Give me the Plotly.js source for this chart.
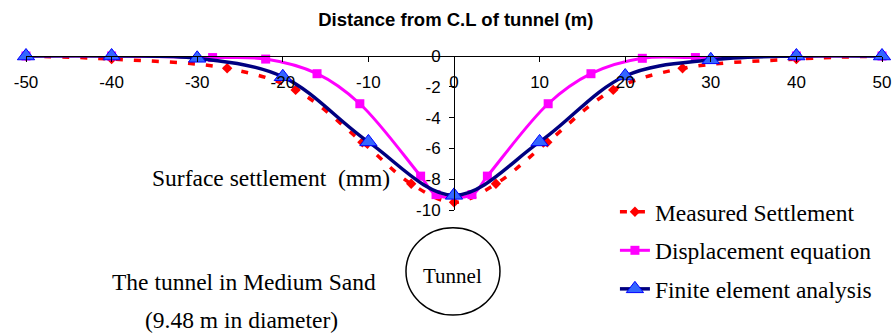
<!DOCTYPE html>
<html>
<head>
<meta charset="utf-8">
<script src="https://cdn.plot.ly/plotly-3.0.1.min.js"></script>
<style>
  html, body { margin: 0; padding: 0; background: #ffffff; }
  #chart { width: 896px; height: 334px; }
</style>
</head>
<body>
<div id="chart"></div>
<script>
// Distance from tunnel centre line (m) and surface settlement (mm)
const measuredX = [-50, -40, -26.5, -18.5, -10.7, -5, 0, 4.9, 10.9, 18.6, 26.7, 40, 50];
const measuredY = [0, -0.2, -0.8, -2.2, -5.6, -8.3, -9.5, -8.3, -5.6, -2.2, -0.8, -0.2, 0];

const displacementX = [-50, -40, -28.2, -22, -16, -11, -3.9, -2.1, 2.1, 3.9, 11, 16, 22, 28.2, 40, 50];
const displacementY = [0, 0, -0.1, -0.2, -1.15, -3.1, -7.8, -9.0, -9.0, -7.8, -3.1, -1.15, -0.15, -0.1, 0, 0];

const feaX = [-50, -40, -30, -20, -10, 0, 10, 20, 30, 40, 50];
const feaY = [0, 0, -0.15, -1.35, -5.58, -9.05, -5.58, -1.3, -0.25, 0, 0];

const seriesNames = ['Measured Settlement', 'Displacement equation', 'Finite element analysis'];
const xTickVals = [-50, -40, -30, -20, -10, 0, 10, 20, 30, 40, 50];
const xTickText = ['-50', '-40', '-30', '-20', '-10', '0', '10', '20', '30', '40', '50'];
const yTickVals = [-10, -8, -6, -4, -2, 0];
const yTickText = ['-10', '-8', '-6', '-4', '-2', '0'];

const serif = "'Times New Roman', 'Liberation Serif', serif";
const sans = "Arial, 'Liberation Sans', sans-serif";

const traces = [
  {
    x: measuredX, y: measuredY, name: seriesNames[0], legendgroup: 'g1',
    type: 'scatter', mode: 'lines+markers', cliponaxis: false,
    line: { color: '#FF0000', width: 3.5, dash: '7px,11px', shape: 'spline', smoothing: 1 },
    marker: { symbol: 'diamond', size: 8, color: '#FF0000', line: { width: 0 } }
  },
  {
    x: displacementX, y: displacementY, name: seriesNames[1], legendgroup: 'g2',
    type: 'scatter', mode: 'lines+markers', cliponaxis: false,
    line: { color: '#FF00FF', width: 3, shape: 'spline', smoothing: 1 },
    marker: { symbol: 'square', size: 9, color: '#FF00FF', line: { width: 0 } }
  },
  {
    x: feaX, y: feaY, name: seriesNames[2], legendgroup: 'g3',
    type: 'scatter', mode: 'lines+markers', cliponaxis: false,
    line: { color: '#000080', width: 3.5, shape: 'spline', smoothing: 1 },
    marker: { symbol: 'triangle-up', size: 15, color: '#3366FF', line: { width: 1, color: '#0000FF' } }
  }
];

const layout = {
  width: 896, height: 334,
  margin: { l: 26, r: 14, t: 56, b: 124, pad: 0 },
  paper_bgcolor: '#ffffff',
  plot_bgcolor: 'rgba(0,0,0,0)',
  showlegend: true,
  title: {
    text: '<b>Distance from C.L of tunnel (m)</b>',
    font: { family: sans, size: 18.5, color: '#000000' },
    xref: 'container', yref: 'container',
    x: 0.5087, xanchor: 'center', y: 0.942, yanchor: 'middle'
  },
  xaxis: {
    range: [-50, 50], tickmode: 'array', tickvals: xTickVals, ticktext: xTickText,
    anchor: 'free', position: 1, side: 'bottom',
    showline: true, linecolor: '#000000', linewidth: 1,
    ticks: 'outside', ticklen: 5, tickcolor: '#000000', tickwidth: 1,
    showgrid: false, zeroline: false,
    tickfont: { family: sans, size: 17, color: '#000000' },
    ticklabelstandoff: 6
  },
  yaxis: {
    range: [-10, 0], tickmode: 'array', tickvals: yTickVals, ticktext: yTickText,
    anchor: 'free', position: 0.5, side: 'left',
    showline: true, linecolor: '#000000', linewidth: 1,
    ticks: 'outside', ticklen: 5, tickcolor: '#000000', tickwidth: 1,
    showgrid: false, zeroline: false,
    tickfont: { family: sans, size: 17, color: '#000000' },
    ticklabelstandoff: 5
  },
  legend: {
    x: 0.688, y: 0.13, xanchor: 'left', yanchor: 'top',
    xref: 'paper', yref: 'paper',
    font: { family: serif, size: 23.5, color: '#000000' },
    bgcolor: 'rgba(0,0,0,0)', borderwidth: 0,
    traceorder: 'grouped', tracegroupgap: 5
  },
  annotations: [
    { text: 'Surface settlement\u00a0\u00a0(mm)', xref: 'paper', yref: 'paper', x: 0.2862, y: 0.2058,
      xanchor: 'center', yanchor: 'middle', showarrow: false, font: { family: serif, size: 23.5, color: '#000000' } },
    { text: 'The tunnel in Medium Sand', xref: 'paper', yref: 'paper', x: 0.2541, y: -0.4656,
      xanchor: 'center', yanchor: 'middle', showarrow: false, font: { family: serif, size: 23.5, color: '#000000' } },
    { text: '(9.48 m in diameter)', xref: 'paper', yref: 'paper', x: 0.2518, y: -0.7143,
      xanchor: 'center', yanchor: 'middle', showarrow: false, font: { family: serif, size: 23.5, color: '#000000' } },
    { text: 'Tunnel', xref: 'paper', yref: 'paper', x: 0.4988, y: -0.4286,
      xanchor: 'center', yanchor: 'middle', showarrow: false, font: { family: serif, size: 21, color: '#000000' } }
  ],
  shapes: [
    { type: 'circle', xref: 'paper', yref: 'paper', x0: 0.4439, x1: 0.5537, y0: -0.6818, y1: -0.1149,
      line: { color: '#000000', width: 1.5 }, fillcolor: 'rgba(0,0,0,0)' }
  ]
};

Plotly.newPlot('chart', traces, layout, { displayModeBar: false, staticPlot: true });
</script>
</body>
</html>
